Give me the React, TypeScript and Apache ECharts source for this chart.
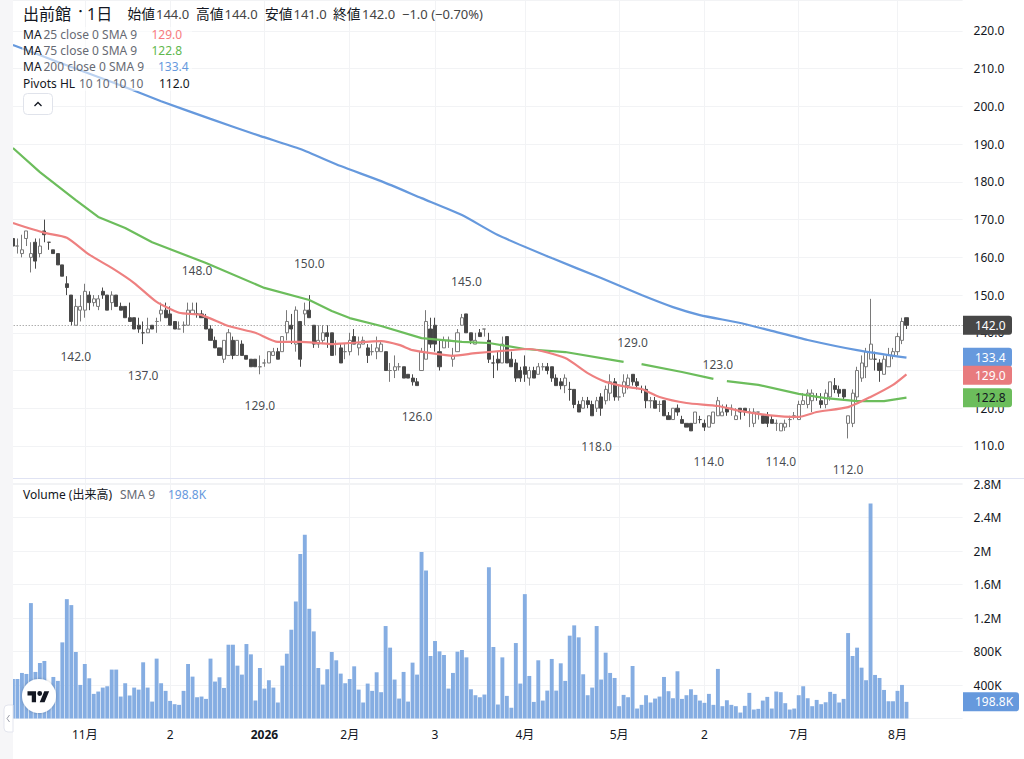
import React, { useEffect, useRef } from "react";
import * as echarts from "echarts";

const opens = [165,163,161,165,160,164,161,167,164,162,161,158,153,150,142,146,146,150,148,147,151,150,148,150,147,147,144,144,142,140,140,142,143,145,146,145,143,141,142,142,145,145,145,144,141,138,136,133,134,138,134,137,134,133,133,131,132,132,134,135,135,140,142,137,143,145,146,142,137,138,140,140,137,136,135,135,139,136,137,136,135,135,135,135,130,130,131,131,129,128,127,130,133,141,142,135,136,138,133,135,142,145,140,137,140,141,138,132,133,132,139,133,132,130,131,128,130,129,131,131,131,128,127,126,125,125,121,120,122,121,120,123,122,124,127,123,124,126,129,127,125,125,122,122,121,122,118,117,120,117,116,116,116,117,116,115,116,118,118,120,120,117,120,120,119,116,119,118,118,117,116,114,115,117,118,117,121,121,122,123,122,121,123,126,125,125,116,116,123,128,131,133,133,132,129,131,134,135,138,144];
const highs = [165,165,166,167,164,165,165,170,164,162,161,158,155,150,149,150,153,151,150,150,152,150,151,150,148,147,148,144,144,143,144,142,144,148,148,147,143,143,143,148,148,148,146,145,142,139,136,138,141,139,138,138,134,133,133,134,133,135,136,136,139,146,145,147,143,148,150,142,142,142,142,140,138,137,137,140,141,139,139,137,137,139,138,135,132,134,132,131,129,129,128,136,146,144,144,138,139,139,136,141,145,145,140,140,141,141,140,134,135,139,139,135,133,131,134,131,131,132,132,132,131,129,128,129,127,125,122,123,123,122,123,124,126,129,128,126,129,129,129,128,126,126,123,123,122,122,119,120,121,118,116,116,119,118,117,118,119,123,121,121,121,120,120,120,120,120,119,118,119,118,117,116,117,118,119,122,124,125,125,124,124,125,127,128,126,125,118,125,131,134,136,149,135,133,134,136,136,140,144,144];
const lows = [163,161,160,163,156,157,160,164,162,161,158,155,150,142,142,143,144,146,147,146,149,146,146,147,146,144,143,141,140,137,140,141,140,143,144,142,141,141,140,142,145,144,144,141,138,136,134,132,134,133,134,134,133,131,131,129,131,132,134,133,135,138,137,135,131,142,144,136,136,137,136,134,134,132,133,134,137,134,137,132,134,133,135,130,127,128,130,128,128,126,126,130,133,136,135,130,136,136,131,135,142,140,137,137,139,139,132,128,130,132,132,131,127,127,127,126,128,129,130,129,127,126,125,124,122,120,119,120,120,118,119,118,121,122,122,122,123,125,126,125,124,120,120,120,119,118,117,117,118,116,115,114,116,116,114,115,116,118,118,118,118,117,117,118,115,115,117,116,115,116,114,114,114,115,117,117,121,120,119,122,120,120,122,124,123,122,112,115,122,127,128,133,130,127,129,131,133,134,137,141];
const closes = [163,163,162,167,161,159,163,166,164,161,158,155,152,143,147,147,151,148,149,149,150,146,150,147,146,144,143,141,141,140,141,141,143,146,144,142,141,141,142,146,146,145,144,141,138,136,134,138,140,134,138,134,133,131,131,131,132,135,135,133,139,143,141,146,133,146,144,137,138,140,139,134,137,132,135,138,137,137,138,134,135,136,137,130,130,131,131,128,128,127,126,135,143,137,137,131,138,138,134,140,144,140,138,138,139,141,133,132,132,137,132,131,128,128,129,130,128,131,131,130,128,126,126,128,125,121,119,122,121,118,122,120,125,127,123,123,127,128,127,126,125,122,122,120,121,118,117,120,119,116,115,114,119,117,115,118,119,122,119,119,120,118,119,119,119,119,119,116,116,116,116,116,116,117,118,121,122,124,124,123,121,124,127,125,124,123,118,124,130,132,135,137,133,130,133,134,135,139,143,142];
const volumesK = [472,472,544,532,1378,556,663,687,300,496,449,909,1425,1354,794,401,651,480,294,322,369,385,584,584,262,421,274,369,345,671,369,202,715,421,330,210,171,163,330,651,500,254,262,234,715,441,492,365,881,881,631,524,889,766,214,603,357,457,369,191,631,774,1060,1397,1965,2195,1310,1040,603,405,588,794,695,536,421,472,623,345,191,417,330,552,314,1104,846,465,238,556,202,667,524,1989,1767,746,925,802,758,357,544,798,818,730,349,278,254,286,1806,854,167,730,270,127,901,417,1485,508,198,695,214,333,711,333,659,449,989,1112,969,528,278,369,1104,465,786,544,484,147,282,254,627,119,163,278,191,238,262,496,326,242,564,234,278,349,282,214,187,294,163,592,147,218,163,147,71,151,306,107,115,214,258,119,322,314,183,107,119,278,385,242,147,222,171,194,318,294,191,234,1020,746,846,607,457,2568,520,484,341,206,206,330,401,198.8];

const ma25 = [[0,169.1],[7,166.5],[12,165.2],[17,160.7],[22,157.2],[27,153.2],[32,148.2],[37,145.3],[42,144.7],[48,141.8],[54,140],[59,137.6],[64,137.6],[68,137.3],[71,137],[75,137.3],[82,137.8],[86,136.8],[89,135.4],[93,134.6],[98,133.9],[103,134.6],[109,135.2],[115,135.7],[123,133.3],[128,129.3],[132,127],[137,125.6],[140,125.1],[144,123],[150,121.4],[157,120.6],[162,119.3],[168,118.2],[175,117.7],[179,119],[186,120.3],[191,123],[196,126.2],[199,129]];
const ma75 = [[0,189],[6,182.6],[14,175.2],[19,170.7],[25,167.8],[31,164],[43,158.5],[56,151.9],[66,148.7],[71,145.8],[75,143.9],[82,141.8],[91,138.6],[100,137.6],[106,137.3],[114,135.7],[123,134.9],[135,132.5],[136,132.3],[137,"-"],[140,131.7],[149,129.6],[156,127.8],[157,"-"],[159,127.2],[166,126.2],[175,123.8],[181,122.7],[188,121.9],[194,121.9],[199,122.8]];
const ma200 = [[0,216.3],[10,211.8],[22,206.5],[33,201.4],[44,196.7],[55,192.2],[64,188.7],[73,184.2],[82,180.2],[91,175.7],[100,171.2],[108,165.9],[120,159.8],[131,154.5],[140,150],[147,146.8],[153,144.7],[162,142.6],[169,140.5],[177,138.1],[188,135.4],[199,133.4]];

const pivotHighs = [[41,148],[66,150],[101,145],[138,129],[157,123]];
const pivotLows = [[14,142],[29,137],[55,129],[90,126],[130,118],[155,114],[171,114],[186,112]];

const tickIndex = [16,35,56,75,94,114,135,154,175,197];
const tickLabels = ["11月","2","2026","2月","3","4月","5月","2","7月","8月"];
const lastClose = 142;
const lastMa25 = 129.0;
const lastMa75 = 122.8;
const lastMa200 = 133.4;
const lastVolumeK = 198.8;

const FONT = '"Noto Sans","Noto Sans CJK JP",sans-serif';
const INK = "#131722";
const GRID = "#f2f3f5";
const RED = "#ee8080";
const GREEN = "#6cbd5c";
const BLUE = "#6699dd";
const SLOTS = 212;

const categories = Array.from({ length: SLOTS }, (_, i) => String(i));
const candleData = opens.map((o, i) => [o, closes[i], lows[i], highs[i]]);
const volumeData = volumesK.map((v) => v * 1000);

function fmtVol(v: number) {
  if (v === 0 || v % 400000 !== 0) return "";
  return v >= 1000000 ? v / 1000000 + "M" : v / 1000 + "K";
}

function txt(x: number, y: number, text: string, fill: string, fontSize = 12, align = "left") {
  return {
    type: "text",
    x,
    y,
    z: 110,
    silent: true,
    style: { text, fill, fontSize, fontFamily: FONT, align, verticalAlign: "middle", textAlign: align, textVerticalAlign: "middle" },
  };
}

export default function App() {
  const ref = useRef<HTMLDivElement>(null);
  useEffect(() => {
    document.body.style.margin = "0";
    document.body.style.background = "#fff";
    echarts.graphic.registerShape(
      "logo",
      echarts.graphic.extendPath("M14 22H7V11H0V4h14v18zM28 22h-8l7.5-18h8L28 22zM16 7.5a4 4 0 1 0 8 0a4 4 0 1 0-8 0z", {})
    );
    const chart = echarts.init(ref.current!, undefined, { renderer: "svg" });
    const vLines = {
      silent: true,
      symbol: "none",
      z: 0,
      label: { show: false },
      lineStyle: { color: GRID, width: 1, type: "solid" },
      data: tickIndex.map((i) => ({ xAxis: i })),
    };
    const left = 10.7;
    const width = 951.9;
    chart.setOption({
      animation: false,
      backgroundColor: "#fff",
      grid: [
        { left, width, top: 0, height: 483.7 },
        { left, width, top: 484, height: 234.5 },
      ],
      xAxis: [
        { type: "category", gridIndex: 0, data: categories, axisLine: { show: false }, axisTick: { show: false }, axisLabel: { show: false }, splitLine: { show: false } },
        {
          type: "category",
          gridIndex: 1,
          data: categories,
          axisLine: { show: false },
          axisTick: { show: false },
          splitLine: { show: false },
          axisLabel: {
            interval: (idx: number) => tickIndex.includes(idx),
            margin: 10,
            color: INK,
            fontSize: 12,
            fontFamily: FONT,
            formatter: (_: string, idx: number) => {
              const l = tickLabels[tickIndex.indexOf(idx)] ?? "";
              return l === "2026" ? "{b|2026}" : l;
            },
            rich: { b: { fontWeight: "bold", fontSize: 12, fontFamily: FONT, color: INK } },
          },
        },
      ],
      yAxis: [
        {
          type: "value",
          gridIndex: 0,
          position: "right",
          min: 100,
          max: 228.217,
          interval: 10,
          axisLine: { show: false },
          axisTick: { show: false },
          axisLabel: {
            margin: 11,
            showMaxLabel: false,
            color: INK,
            fontSize: 12,
            fontFamily: FONT,
            formatter: (v: number) => (v === 100 || v === 130 || v % 10 !== 0 ? "" : v.toFixed(1)),
          },
          splitLine: { lineStyle: { color: GRID, width: 1 } },
        },
        {
          type: "value",
          gridIndex: 1,
          position: "right",
          min: 0,
          max: 2800000,
          interval: 400000,
          axisLine: { show: false },
          axisTick: { show: false },
          axisLabel: { margin: 11, color: INK, fontSize: 12, fontFamily: FONT, formatter: fmtVol },
          splitLine: { lineStyle: { color: GRID, width: 1 } },
        },
      ],
      series: [
        {
          type: "candlestick",
          name: "price",
          xAxisIndex: 0,
          yAxisIndex: 0,
          z: 3,
          barWidth: 3.6,
          data: candleData,
          itemStyle: { color: "#ffffff", color0: "#454545", borderColor: "#7a7a7a", borderColor0: "#4a4a4a", borderWidth: 1 },
          markLine: {
            silent: true,
            symbol: "none",
            z: 1,
            label: { show: false },
            lineStyle: { color: "#8a8a8a", width: 1, type: [1, 2] },
            data: [{ yAxis: lastClose }],
          },
        },
        { type: "line", name: "grid0", xAxisIndex: 0, yAxisIndex: 0, z: 0, data: [], showSymbol: false, markLine: vLines },
        { type: "line", name: "MA 200", xAxisIndex: 0, yAxisIndex: 0, z: 4, data: ma200, showSymbol: false, smooth: 0.2, lineStyle: { color: BLUE, width: 2.2 } },
        { type: "line", name: "MA 75", xAxisIndex: 0, yAxisIndex: 0, z: 4, data: ma75, showSymbol: false, connectNulls: false, lineStyle: { color: GREEN, width: 2.2 } },
        { type: "line", name: "MA 25", xAxisIndex: 0, yAxisIndex: 0, z: 4, data: ma25, showSymbol: false, smooth: 0.2, lineStyle: { color: RED, width: 2.2 } },
        {
          type: "scatter",
          name: "pivot highs",
          xAxisIndex: 0,
          yAxisIndex: 0,
          z: 5,
          symbolSize: 1,
          itemStyle: { color: "rgba(0,0,0,0)" },
          data: pivotHighs,
          label: { show: true, position: "inside", offset: [0, -32], color: INK, fontSize: 12, fontFamily: FONT, formatter: (p: any) => p.value[1].toFixed(1) },
        },
        {
          type: "scatter",
          name: "pivot lows",
          xAxisIndex: 0,
          yAxisIndex: 0,
          z: 5,
          symbolSize: 1,
          itemStyle: { color: "rgba(0,0,0,0)" },
          data: pivotLows,
          label: { show: true, position: "inside", offset: [0, 31], color: INK, fontSize: 12, fontFamily: FONT, formatter: (p: any) => p.value[1].toFixed(1) },
        },
        {
          type: "bar",
          name: "Volume",
          xAxisIndex: 1,
          yAxisIndex: 1,
          z: 3,
          barWidth: 3.9,
          data: volumeData,
          itemStyle: { color: "#85ade2" },
          markLine: vLines,
        },
      ],
    });

    const priceY = (v: number) => chart.convertToPixel({ yAxisIndex: 0 }, v) as number;
    const volY = (v: number) => chart.convertToPixel({ yAxisIndex: 1 }, v) as number;
    const box = (value: number, y: number, fill: string, textFill: string, label: string, w = 49) => [
      { type: "rect", z: 105, silent: true, shape: { x: 963, y: y - 9.5, width: w, height: 19, r: [0, 3, 3, 0] }, style: { fill } },
      txt(975, y, label, textFill),
    ];
    const header: [number, string, string, number][] = [
      [127.5, "始値", INK, 13.7], [156, "144.0", "#444", 13],
      [196, "高値", INK, 13.7], [224.5, "144.0", "#444", 13],
      [265, "安値", INK, 13.7], [293.5, "141.0", "#444", 13],
      [333, "終値", INK, 13.7], [362, "142.0", "#444", 13],
      [402, "−1.0 (−0.70%)", "#444", 13],
    ];
    chart.setOption({
      graphic: [
        { type: "rect", z: 100, silent: true, shape: { x: 0, y: 0, width: 13, height: 759 }, style: { fill: "#f6f6f8" } },
        { type: "line", z: 100, silent: true, shape: { x1: 13, y1: 478.5, x2: 1024, y2: 478.5 }, style: { stroke: "#e0e3f3", lineWidth: 1 } },
        { type: "rect", z: 101, silent: true, shape: { x: 4, y: 705, width: 9, height: 27, r: [4, 0, 0, 4] }, style: { fill: "#fff", stroke: "#e3e5ee", lineWidth: 1 } },
        { type: "polyline", z: 102, silent: true, shape: { points: [[9.5, 715], [7, 718.5], [9.5, 722]] }, style: { stroke: "#9a9da8", lineWidth: 1, fill: "none" } },
        { type: "rect", z: 100, silent: true, shape: { x: 22, y: 27, width: 170, height: 64 }, style: { fill: "rgba(255,255,255,0.55)" } },
        txt(23, 13.5, "出前館", INK, 16),
        txt(77, 10, "･", INK, 14),
        txt(87, 13.5, "1日", INK, 16),
        ...header.map(([x, s, c, f]) => txt(x, 13.5, s, c, f)),
        txt(23, 34.5, "MA", INK), txt(43.5, 34.5, "25 close 0 SMA 9", "#666a73"), txt(151.5, 34.5, lastMa25.toFixed(1), "#f77c80"),
        txt(23, 50.5, "MA", INK), txt(43.5, 50.5, "75 close 0 SMA 9", "#666a73"), txt(151.5, 50.5, lastMa75.toFixed(1), "#5fb84e"),
        txt(23, 66.5, "MA", INK), txt(43.5, 66.5, "200 close 0 SMA 9", "#666a73"), txt(158, 66.5, lastMa200.toFixed(1), BLUE),
        txt(23, 83, "Pivots HL", INK), txt(79, 83, "10 10 10 10", "#666a73"), txt(159, 83, "112.0", INK),
        txt(23, 494, "Volume (出来高)", INK), txt(120, 494, "SMA 9", "#666a73"), txt(168, 494, lastVolumeK.toFixed(1) + "K", BLUE),
        { type: "rect", z: 101, silent: true, shape: { x: 23.5, y: 93.5, width: 29, height: 21, r: 4 }, style: { fill: "#fff", stroke: "#e0e3eb", lineWidth: 1 } },
        { type: "polyline", z: 102, silent: true, shape: { points: [[34.5, 106], [38, 102.5], [41.5, 106]] }, style: { stroke: INK, lineWidth: 1.3, fill: "none" } },
        { type: "circle", z: 100, silent: true, shape: { cx: 39, cy: 696, r: 17 }, style: { fill: "#fff", shadowBlur: 3, shadowColor: "rgba(0,0,0,0.25)" } },
        { type: "logo", z: 101, silent: true, x: 27.5, y: 688.9, scaleX: 0.61, scaleY: 0.61, style: { fill: "#131722" } },
        ...box(lastClose, priceY(lastClose), "#474747", "#fff", lastClose.toFixed(1)),
        ...box(lastMa200, priceY(lastMa200) - 0.5, BLUE, "#fff", lastMa200.toFixed(1)),
        ...box(lastMa25, priceY(lastMa25) + 1, "#e87b7e", "#fff", lastMa25.toFixed(1)),
        ...box(lastMa75, priceY(lastMa75), GREEN, INK, lastMa75.toFixed(1)),
        ...box(lastVolumeK, volY(lastVolumeK * 1000), BLUE, "#fff", lastVolumeK.toFixed(1) + "K", 56),
      ],
    });
    return () => chart.dispose();
  }, []);
  return <div ref={ref} style={{ width: 1024, height: 759 }} />;
}
